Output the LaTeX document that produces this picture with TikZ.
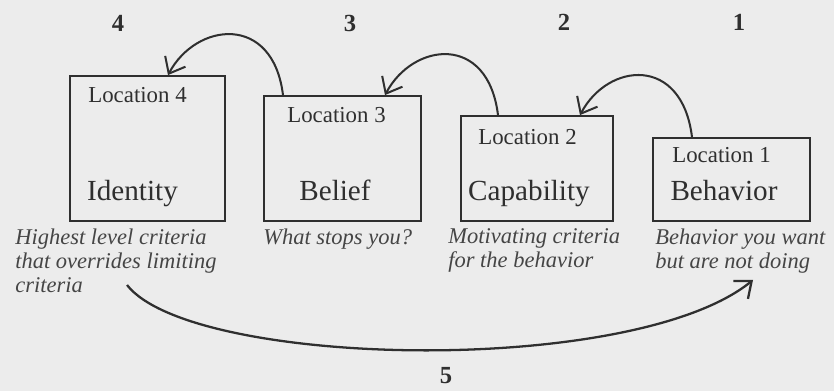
\documentclass[tikz,border=0pt]{standalone}
\usepackage{fontspec}
\setmainfont{Liberation Serif}
\usetikzlibrary{arrows.meta,positioning}
\definecolor{levelInk}{HTML}{2F2F2F}
\definecolor{levelNote}{HTML}{454545}
\definecolor{levelPaper}{HTML}{ECECEC}

\begin{document}
\begin{tikzpicture}[
  level/.style={draw=levelInk,line width=1.1pt,anchor=south west,inner sep=0pt},
  where/.style={anchor=base west,inner sep=0pt,text=levelInk,font=\fontsize{13}{15}\selectfont},
  word/.style={anchor=base,inner sep=0pt,text=levelInk,font=\fontsize{16.6}{19}\selectfont},
  note/.style={anchor=north west,inner sep=0pt,align=left,text=levelNote,font=\fontsize{12.8}{13.8}\selectfont\itshape},
  rank/.style={inner sep=0pt,text=levelInk,font=\fontsize{14}{16}\selectfont\bfseries},
  hop/.style={-{Straight Barb[length=2.8mm,width=4.6mm]},line width=1.15pt,draw=levelInk},
  leap/.style={-{Straight Barb[length=2.8mm,width=4.6mm]},line width=1.3pt,draw=levelInk}
]
\fill[levelPaper] (0,0) rectangle (16.68,7.82);
\useasboundingbox (0,0) rectangle (16.68,7.82);

% the four levels
\node[level,minimum width=3.10cm,minimum height=2.90cm] (identity) at (1.38,3.38) {};
\node[level,minimum width=3.14cm,minimum height=2.50cm] (belief) at (5.26,3.38) {};
\node[level,minimum width=3.04cm,minimum height=2.10cm] (capability) at (9.20,3.38) {};
\node[level,minimum width=3.14cm,minimum height=1.66cm] (behavior) at (13.04,3.38) {};

\node[where] (identity-loc) at (1.76,5.76) {Location 4};
\node[where] (belief-loc) at (5.74,5.36) {Location 3};
\node[where] (capability-loc) at (9.56,4.92) {Location 2};
\node[where] (behavior-loc) at (13.44,4.56) {Location 1};

\node[word] (identity-word) at (2.65,3.80) {Identity};
\node[word] (belief-word) at (6.70,3.80) {Belief};
\node[word] (capability-word) at (10.58,3.80) {Capability};
\node[word] (behavior-word) at (14.48,3.80) {Behavior};

\node[note] (identity-note) at (0.30,3.25) {Highest level criteria\\that overrides limiting\\criteria};
\node[note] (belief-note) at (5.26,3.25) {What stops you?};
\node[note] (capability-note) at (8.96,3.25) {Motivating criteria\\for the behavior};
\node[note] (behavior-note) at (13.10,3.25) {Behavior you want\\but are not doing};

% order of the steps
\node[rank] (rank4) at (2.36,7.36) {4};
\node[rank] (rank3) at (7.00,7.36) {3};
\node[rank] (rank2) at (11.28,7.38) {2};
\node[rank] (rank1) at (14.78,7.38) {1};
\node[rank] (rank5) at (8.92,0.30) {5};

\foreach \src/\sx/\dst/\dx in {belief/0.40/identity/1.98,capability/0.76/belief/2.44,behavior/0.80/capability/2.40}
  {\draw[hop] ([xshift=\sx cm]\src.north west) to[out=97,in=62,out distance=1.65cm,in distance=1.2cm] ([xshift=\dx cm]\dst.north west);}

\draw[leap] ([shift={(1.16,-1.26)}]identity.south west) to[out=-52,in=-141,out distance=2.1cm,in distance=3.1cm] ([shift={(2.02,-1.16)}]behavior.south west);
\end{tikzpicture}
\end{document}
